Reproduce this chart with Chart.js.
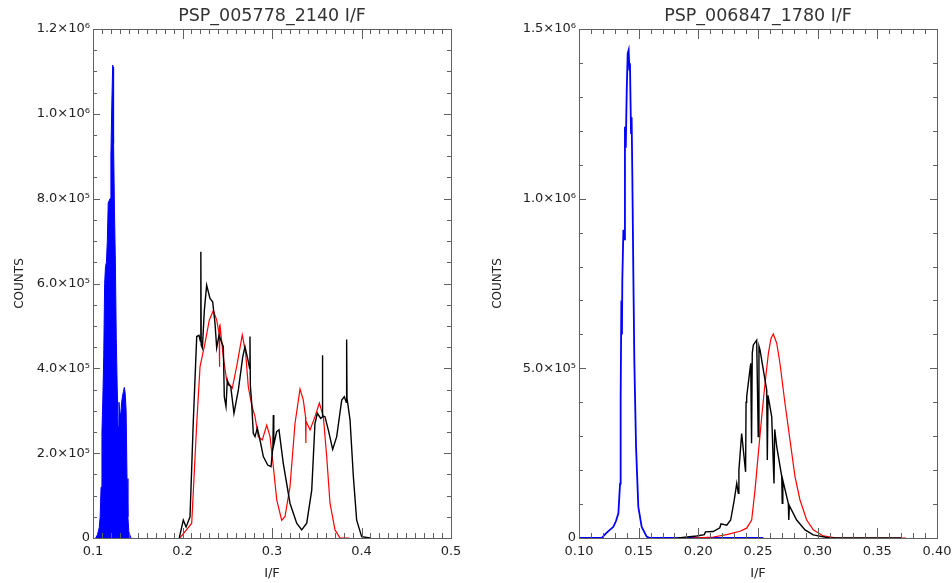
<!DOCTYPE html>
<html>
<head>
<meta charset="utf-8">
<script src="https://cdn.jsdelivr.net/npm/chart.js@4.4.1/dist/chart.umd.min.js"></script>
<style>
  body { margin: 0; background: #fff; }
  #wrap { position: relative; width: 952px; height: 583px; }
  .pane { position: absolute; top: 0; width: 476px; height: 583px; }
</style>
</head>
<body>
<div id="wrap">
  <div class="pane" style="left:0"><canvas id="left" width="476" height="583"></canvas></div>
  <div class="pane" style="left:476px"><canvas id="right" width="476" height="583"></canvas></div>
</div>
<script>
// ---- left panel: PSP_005778_2140 ----
const leftTitle = "PSP_005778_2140 I/F";
const leftBlueIF = [0.103, 0.105, 0.107, 0.108, 0.109, 0.110, 0.111, 0.112, 0.113, 0.114, 0.115, 0.116, 0.117, 0.118, 0.119, 0.120, 0.121, 0.122, 0.1225, 0.123, 0.124, 0.125, 0.126, 0.127, 0.128, 0.129, 0.130, 0.131, 0.132, 0.133, 0.134, 0.135, 0.136, 0.137, 0.138, 0.139, 0.140, 0.142, 0.143];
const leftBlueCounts = [0, 8000, 25000, 50000, 120000, 250000, 330000, 430000, 600000, 640000, 650000, 700000, 790000, 795000, 800000, 900000, 1020000, 1115000, 1110000, 930000, 770000, 650000, 470000, 360000, 262000, 320000, 295000, 290000, 320000, 335000, 345000, 355000, 340000, 300000, 140000, 50000, 15000, 2000, 0];

const leftBlackIF = [0.1964, 0.2009, 0.2040, 0.2084, 0.2120, 0.2159, 0.2184, 0.2201, 0.2205, 0.2209, 0.2222, 0.2244, 0.2270, 0.2307, 0.2337, 0.2363, 0.2382, 0.2408, 0.2427, 0.2456, 0.2467, 0.2486, 0.2501, 0.2516, 0.2539, 0.2575, 0.2624, 0.2673, 0.2698, 0.2724, 0.2750, 0.2754, 0.2758, 0.2773, 0.2791, 0.2810, 0.2836, 0.2866, 0.2903, 0.2952, 0.2989, 0.3010, 0.3015, 0.3020, 0.3052, 0.3078, 0.3126, 0.3201, 0.3276, 0.3332, 0.3388, 0.3444, 0.3480, 0.3507, 0.3544, 0.3560, 0.3563, 0.3567, 0.3592, 0.3629, 0.3678, 0.3723, 0.3779, 0.3808, 0.3830, 0.3834, 0.3838, 0.3872, 0.3909, 0.3946, 0.4002, 0.4096];
const leftBlackCounts = [0, 42000, 26000, 50000, 271000, 475000, 478000, 463000, 675000, 455000, 448000, 537000, 596000, 565000, 557000, 507000, 448000, 478000, 467000, 451000, 333000, 310000, 372000, 361000, 357000, 294000, 349000, 427000, 451000, 427000, 400000, 475000, 360000, 318000, 247000, 239000, 259000, 231000, 192000, 172000, 168000, 215000, 290000, 220000, 251000, 255000, 176000, 82000, 35000, 19000, 35000, 113000, 270000, 294000, 282000, 285000, 431000, 288000, 286000, 255000, 209000, 239000, 325000, 333000, 320000, 468000, 330000, 278000, 145000, 42000, 3000, 0];

const leftRedIF = [0.1970, 0.2047, 0.2103, 0.2159, 0.2196, 0.2251, 0.2300, 0.2344, 0.2382, 0.2410, 0.2413, 0.2416, 0.2419, 0.2456, 0.2493, 0.2556, 0.2605, 0.2668, 0.2706, 0.2735, 0.2773, 0.2810, 0.2847, 0.2892, 0.2941, 0.2978, 0.3015, 0.3053, 0.3108, 0.3145, 0.3201, 0.3257, 0.3313, 0.3350, 0.3375, 0.3378, 0.3381, 0.3425, 0.3480, 0.3529, 0.3574, 0.3611, 0.3648, 0.3704, 0.3760, 0.3864];
const leftRedCounts = [0, 20000, 35000, 270000, 404000, 459000, 514000, 536000, 514000, 480000, 404000, 500000, 502000, 427000, 372000, 353000, 404000, 479000, 435000, 357000, 314000, 286000, 239000, 231000, 266000, 239000, 168000, 90000, 42000, 50000, 121000, 270000, 351000, 325000, 285000, 224000, 275000, 255000, 286000, 318000, 286000, 192000, 82000, 19000, 0, 0];

// ---- right panel: PSP_006847_1780 ----
const rightTitle = "PSP_006847_1780 I/F";
const rightBlueIF = [0.100, 0.119, 0.123, 0.1288, 0.131, 0.133, 0.1344, 0.1349, 0.1355, 0.1360, 0.1363, 0.1372, 0.1378, 0.1385, 0.1392, 0.1400, 0.1408, 0.1416, 0.1422, 0.1427, 0.1436, 0.1441, 0.1447, 0.1455, 0.1464, 0.1478, 0.1497, 0.1525, 0.1567, 0.1595, 0.2545];
const rightBlueCounts = [0, 0, 15000, 33000, 50000, 73000, 160000, 416000, 700000, 600000, 760000, 908000, 880000, 1212000, 1150000, 1320000, 1428000, 1438000, 1380000, 1399000, 1193000, 1240000, 1065000, 790000, 515000, 269000, 92000, 33000, 4000, 0, 0];

const rightBlackIF = [0.183, 0.1986, 0.2050, 0.2060, 0.2125, 0.2180, 0.2190, 0.2238, 0.2271, 0.2300, 0.2322, 0.2335, 0.2340, 0.2363, 0.2396, 0.2400, 0.2405, 0.2439, 0.2446, 0.2452, 0.2461, 0.2489, 0.2502, 0.2508, 0.2517, 0.2545, 0.2573, 0.2578, 0.2584, 0.2615, 0.2634, 0.2640, 0.2657, 0.2699, 0.2703, 0.2708, 0.2754, 0.2758, 0.2763, 0.2824, 0.2894, 0.2963, 0.3100, 0.3704];
const rightBlackCounts = [0, 6000, 10000, 18000, 19000, 30000, 42000, 38000, 53000, 110000, 161000, 132000, 200000, 308000, 195000, 400000, 416000, 515000, 279000, 545000, 569000, 583000, 299000, 565000, 554000, 495000, 436000, 230000, 420000, 357000, 161000, 320000, 269000, 181000, 102000, 170000, 102000, 53000, 95000, 53000, 24000, 9000, 0, 0];

const rightRedIF = [0.195, 0.2125, 0.2238, 0.2349, 0.2405, 0.2447, 0.2475, 0.2503, 0.2531, 0.2559, 0.2587, 0.2609, 0.2628, 0.2657, 0.2684, 0.2726, 0.2768, 0.2810, 0.2852, 0.2908, 0.2963, 0.3047, 0.3160, 0.3740];
const rightRedCounts = [0, 3000, 10000, 20000, 29000, 53000, 141000, 250000, 357000, 456000, 544000, 588000, 601000, 574000, 515000, 397000, 289000, 181000, 112000, 53000, 24000, 6000, 0, 0];

const SUP = { 5: "\u2075", 6: "\u2076" };
function countLabel(v) {
  if (v === 0) return "0";
  const e = Math.floor(Math.log10(v) + 1e-9);
  const m = v / Math.pow(10, e);
  return m.toFixed(1) + "\u00d710" + SUP[e];
}

function pts(xs, ys) {
  return xs.map((x, i) => ({ x: x, y: ys[i] }));
}

const FONT = "'DejaVu Sans', sans-serif";

const insideTicks = {
  id: "insideTicks",
  afterDraw(chart, args, o) {
    const { ctx, chartArea: a, scales } = chart;
    const sx = scales.x, sy = scales.y;
    ctx.save();
    ctx.strokeStyle = "#606060";
    ctx.lineWidth = 1;
    ctx.strokeRect(Math.round(a.left) + 0.5, Math.round(a.top) + 0.5, Math.round(a.right - a.left), Math.round(a.bottom - a.top));
    ctx.beginPath();
    const nx = Math.round((sx.max - sx.min) / o.xMinor);
    for (let i = 0; i <= nx; i++) {
      const p = Math.round(sx.getPixelForValue(sx.min + i * o.xMinor)) + 0.5;
      const len = i % o.xEvery === 0 ? 10 : 5;
      ctx.moveTo(p, a.bottom); ctx.lineTo(p, a.bottom - len);
      ctx.moveTo(p, a.top); ctx.lineTo(p, a.top + len);
    }
    const ny = Math.round((sy.max - sy.min) / o.yMinor);
    for (let i = 0; i <= ny; i++) {
      const p = Math.round(sy.getPixelForValue(sy.min + i * o.yMinor)) + 0.5;
      const len = i % o.yEvery === 0 ? 7 : 4;
      ctx.moveTo(a.left, p); ctx.lineTo(a.left + len, p);
      ctx.moveTo(a.right, p); ctx.lineTo(a.right - len, p);
    }
    ctx.stroke();
    ctx.restore();
  }
};

function makeChart(id, cfg) {
  return new Chart(document.getElementById(id).getContext("2d"), {
    type: "line",
    data: {
      datasets: [
        {
          label: "black",
          data: pts(cfg.blackX, cfg.blackY),
          borderColor: "#000000",
          borderWidth: 1.4,
        },
        {
          label: "red",
          data: pts(cfg.redX, cfg.redY),
          borderColor: "#ff0000",
          borderWidth: 1.2,
        },
        {
          label: "blue",
          data: pts(cfg.blueX, cfg.blueY),
          borderColor: "#0000ff",
          backgroundColor: "#0000ff",
          borderWidth: cfg.blueFill ? 1 : 1.8,
          fill: cfg.blueFill ? "origin" : false,
        },
      ],
    },
    options: {
      responsive: false,
      animation: false,
      elements: { point: { radius: 0 }, line: { tension: 0 } },
      layout: { padding: { left: 0, right: cfg.padRight, top: 0, bottom: 0 } },
      plugins: {
        legend: { display: false },
        tooltip: { enabled: false },
        title: {
          display: true,
          text: cfg.title,
          fullSize: false,
          color: "#333",
          font: { family: FONT, size: 17.5, weight: "normal" },
          padding: { top: 6, bottom: 2 },
        },
        insideTicks: cfg.ticks,
      },
      scales: {
        x: {
          type: "linear",
          min: cfg.xMin,
          max: cfg.xMax,
          afterFit: (s) => { s.height = 45; s.paddingLeft = 0; s.paddingRight = 0; },
          grid: { display: false, drawTicks: false },
          border: { display: false },
          ticks: {
            stepSize: cfg.xStep,
            autoSkip: false,
            maxRotation: 0,
            padding: 6,
            color: "#222",
            font: { family: FONT, size: 13 },
            callback: (v) => v.toFixed(cfg.xDigits),
          },
          title: {
            display: true,
            text: "I/F",
            color: "#222",
            font: { family: FONT, size: 13 },
            padding: { top: 0, bottom: 2 },
          },
        },
        y: {
          type: "linear",
          min: 0,
          max: cfg.yMax,
          afterFit: (s) => { s.width = cfg.yWidth; },
          grid: { display: false, drawTicks: false },
          border: { display: false },
          ticks: {
            stepSize: cfg.yStep,
            padding: 3,
            color: "#222",
            font: { family: FONT, size: 13 },
            callback: (v) => countLabel(v),
          },
          title: {
            display: true,
            text: "COUNTS",
            color: "#222",
            font: { family: FONT, size: 12 },
            padding: { top: cfg.yTitlePad, bottom: 0 },
          },
        },
      },
    },
    plugins: [insideTicks],
  });
}

makeChart("left", {
  title: leftTitle,
  blackX: leftBlackIF, blackY: leftBlackCounts,
  redX: leftRedIF, redY: leftRedCounts,
  blueX: leftBlueIF, blueY: leftBlueCounts,
  blueFill: true,
  xMin: 0.1, xMax: 0.5, xStep: 0.1, xDigits: 1,
  yMax: 1200000, yStep: 200000,
  yWidth: 93, padRight: 25, yTitlePad: 13,
  ticks: { xMinor: 0.01, xEvery: 10, yMinor: 50000, yEvery: 4 },
});

makeChart("right", {
  title: rightTitle,
  blackX: rightBlackIF, blackY: rightBlackCounts,
  redX: rightRedIF, redY: rightRedCounts,
  blueX: rightBlueIF, blueY: rightBlueCounts,
  blueFill: false,
  xMin: 0.1, xMax: 0.4, xStep: 0.05, xDigits: 2,
  yMax: 1500000, yStep: 500000,
  yWidth: 103, padRight: 15, yTitlePad: 15,
  ticks: { xMinor: 0.01, xEvery: 5, yMinor: 100000, yEvery: 5 },
});
</script>
</body>
</html>
